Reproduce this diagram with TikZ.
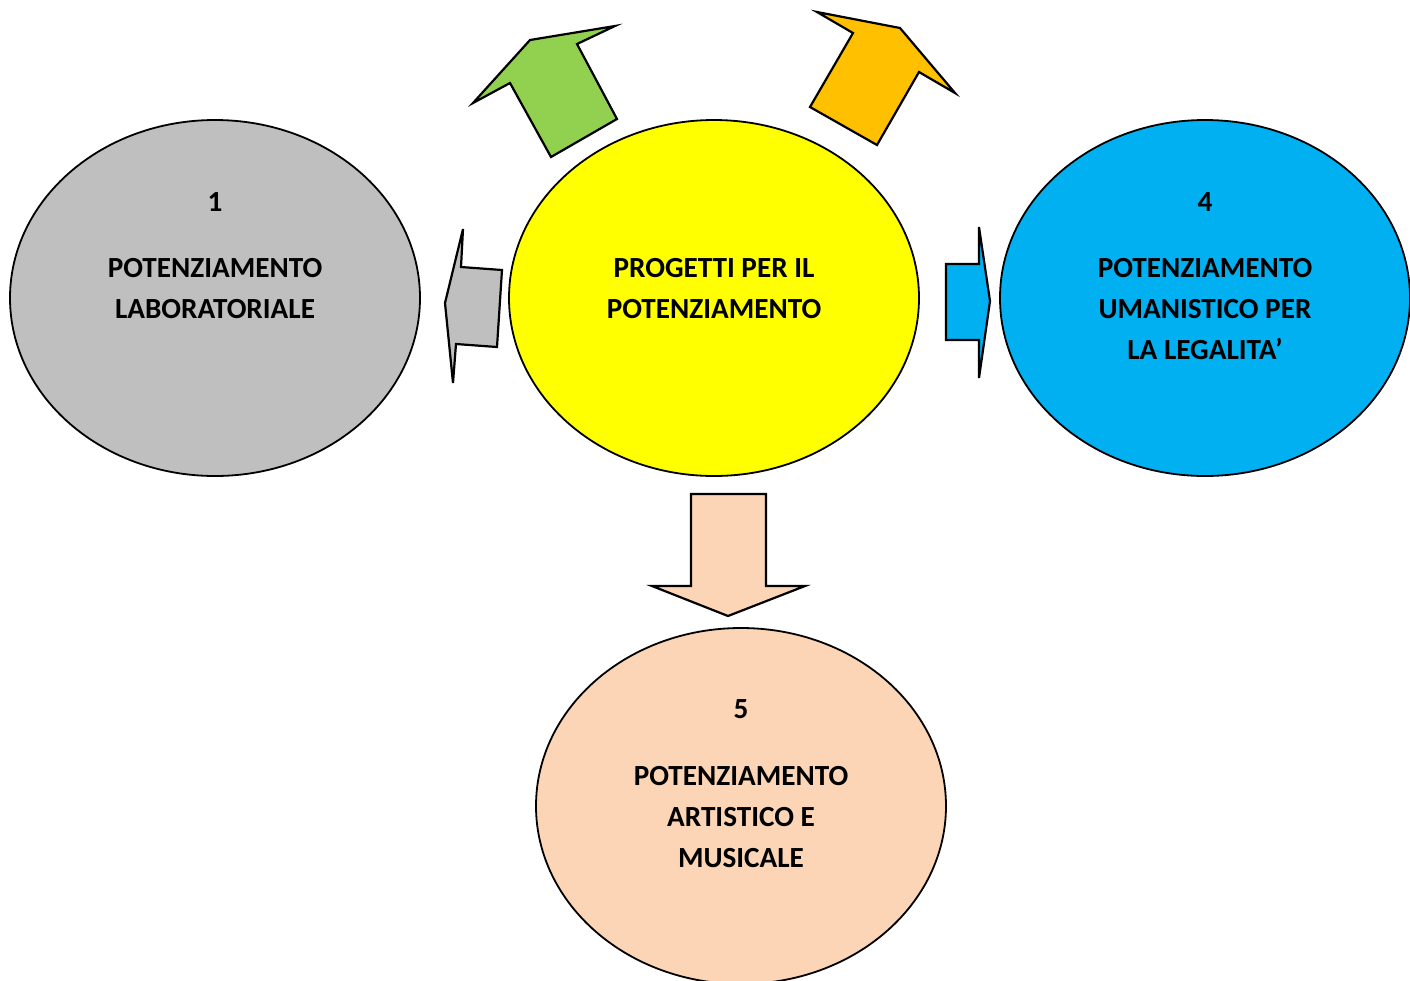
\documentclass[tikz,border=0pt]{standalone}
\usepackage{fontspec}
\setmainfont{Carlito}
\usetikzlibrary{shapes.geometric}
\definecolor{cgrey}{HTML}{BFBFBF}
\definecolor{cyellow}{HTML}{FFFF00}
\definecolor{cblue}{HTML}{00B0F0}
\definecolor{cpeach}{HTML}{FBD5B5}
\definecolor{cgreen}{HTML}{92D050}
\definecolor{corange}{HTML}{FFC000}
\tikzset{
  bubble/.style={ellipse, draw=black, line width=0.9pt, minimum width=205pt, minimum height=178pt, inner sep=0pt},
  blockarrow/.style={draw=black, line width=1.1pt, line join=miter},
  lbl/.style={anchor=base, inner sep=0pt, font=\fontsize{14.6}{17}\selectfont\bfseries}
}
\begin{document}
\begin{tikzpicture}[x=0.5pt,y=-0.5pt]
\useasboundingbox (0,0) rectangle (1410,981);
% ellipses
\node[bubble, fill=cgrey] (e1) at (215,298) {};
\node[bubble, fill=cyellow] (ec) at (714,298) {};
\node[bubble, fill=cblue] (e4) at (1205,298) {};
\node[bubble, fill=cpeach] (e5) at (741,806) {};
% block arrows
\draw[blockarrow, fill=cgreen] (551,157) -- (510,83) -- (473,103) -- (530,40) -- (615,26) -- (577,44) -- (617,119) -- cycle;
\draw[blockarrow, fill=corange] (877,145) -- (919,72) -- (955,93) -- (900,28) -- (817,12) -- (853,33) -- (810,107) -- cycle;
\draw[blockarrow, fill=cgrey] (502,270) -- (461,267) -- (463,229) -- (445,303) -- (453,383) -- (456,344) -- (497,347) -- cycle;
\draw[blockarrow, fill=cblue] (946,264) -- (979,264) -- (979,227) -- (990,301) -- (979,378) -- (979,340) -- (946,340) -- cycle;
\draw[blockarrow, fill=cpeach] (691,494) -- (766,494) -- (766,586) -- (805,586) -- (728,616) -- (652,586) -- (691,586) -- cycle;
% texts
\node[lbl] (t1a) at (215,211) {1};
\node[lbl] (t1b) at (215,277) {POTENZIAMENTO};
\node[lbl] (t1c) at (215,318) {LABORATORIALE};
\node[lbl] (tca) at (714,277) {PROGETTI PER IL};
\node[lbl] (tcb) at (714,318) {POTENZIAMENTO};
\node[lbl] (t4a) at (1205,211) {4};
\node[lbl] (t4b) at (1205,277) {POTENZIAMENTO};
\node[lbl] (t4c) at (1205,318) {UMANISTICO PER};
\node[lbl] (t4d) at (1205,359) {LA LEGALITA’};
\node[lbl] (t5a) at (741,718) {5};
\node[lbl] (t5b) at (741,785) {POTENZIAMENTO};
\node[lbl] (t5c) at (741,826) {ARTISTICO E};
\node[lbl] (t5d) at (741,867) {MUSICALE};
\end{tikzpicture}
\end{document}
